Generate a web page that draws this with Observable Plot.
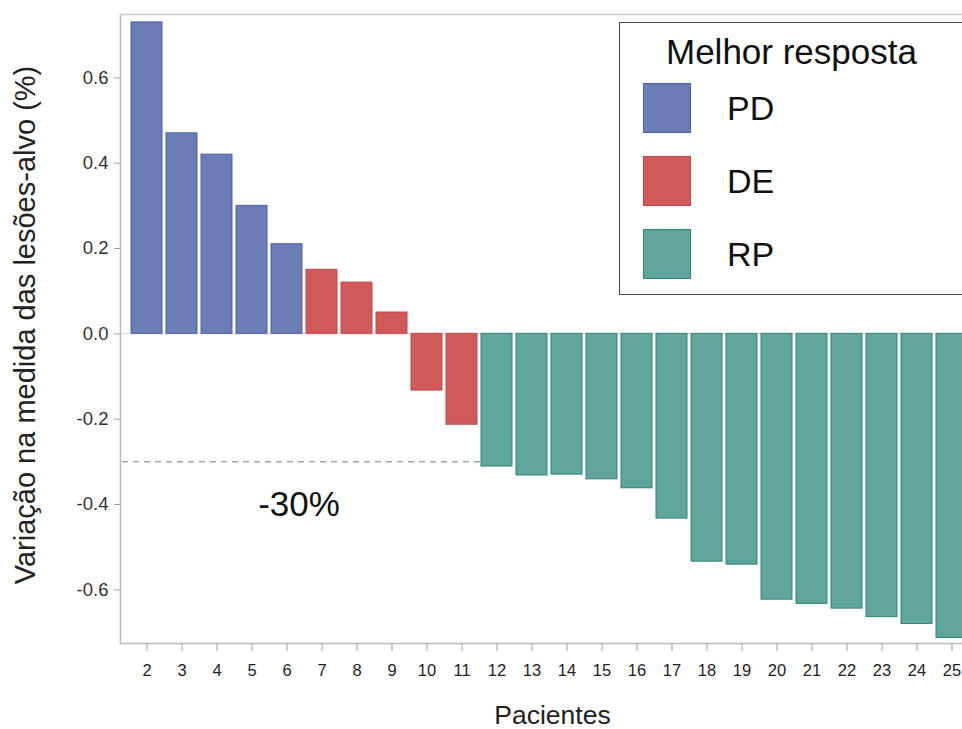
<!DOCTYPE html>
<html>
<head>
<meta charset="utf-8">
<script src="https://cdn.jsdelivr.net/npm/d3@7"></script>
<script src="https://cdn.jsdelivr.net/npm/@observablehq/plot@0.6"></script>
<style>
  html, body { margin: 0; padding: 0; background: #fff; overflow: hidden; }
  #wrap { position: relative; width: 962px; height: 729px; overflow: hidden; font-family: "Liberation Sans", Arial, sans-serif; }
  #legend { position: absolute; left: 619px; top: 22px; width: 380px; height: 273px; border: 1.5px solid #4a4a4a; box-sizing: border-box; background: #fff; }
  #legend .title { position: absolute; left: 46px; top: 9px; font-size: 35px; color: #111; white-space: nowrap; }
  #legend .sw { position: absolute; width: 48px; height: 50px; box-sizing: border-box; border: 1.5px solid; }
  #legend .lab { position: absolute; left: 107px; font-size: 34px; color: #111; line-height: 1; }
</style>
</head>
<body>
<div id="wrap"><div id="legend"></div></div>
<script>
// ---- data ----
const patients = ["2","3","4","5","6","7","8","9","10","11","12","13","14","15","16","17","18","19","20","21","22","23","24","25"];
const change = [0.73, 0.47, 0.42, 0.30, 0.21, 0.15, 0.12, 0.05, -0.133, -0.213, -0.311, -0.332, -0.33, -0.341, -0.362, -0.433, -0.534, -0.541, -0.623, -0.633, -0.644, -0.664, -0.68, -0.713];
const response = ["PD","PD","PD","PD","PD","DE","DE","DE","DE","DE","RP","RP","RP","RP","RP","RP","RP","RP","RP","RP","RP","RP","RP","RP"];
const responseLabels = ["PD", "DE", "RP"];
const fillColors = ["#6b7db6", "#d05a5a", "#5fa59b"];
const strokeColors = ["#4e5fa6", "#c44848", "#2f8478"];
const yTicks = [-0.6, -0.4, -0.2, 0, 0.2, 0.4, 0.6];
const yDomain = [-0.7258, 0.7485];
const threshold = -0.3;
const thresholdFrom = "2";
const thresholdTo = "12";
const thresholdText = "-30%";
const legendTitle = "Melhor resposta";
const yLabel = "Variação na medida das lesões-alvo (%)";
const xLabel = "Pacientes";

const data = patients.map((p, i) => ({patient: p, change: change[i], response: response[i]}));
const strokeOf = r => strokeColors[responseLabels.indexOf(r)];

const chart = Plot.plot({
  width: 962,
  height: 729,
  marginLeft: 120,
  marginRight: 0,
  marginTop: 14,
  marginBottom: 86,
  style: {fontFamily: '"Liberation Sans", Arial, sans-serif', color: "#333", background: "#fff"},
  x: {domain: patients, range: [120, 978], paddingInner: 0.115, paddingOuter: 0.30, axis: null},
  y: {domain: yDomain, axis: null},
  color: {domain: responseLabels, range: fillColors},
  marks: [
    Plot.ruleY([0], {stroke: "#d4d4d4", strokeWidth: 1}),
    Plot.ruleY([{y: threshold, from: thresholdFrom, to: thresholdTo}], {y: "y", x1: "from", x2: "to", insetLeft: -9, stroke: "#a8a8a8", strokeWidth: 1.5, strokeDasharray: "6,5"}),
    Plot.barY(data, {x: "patient", y: "change", fill: "response", stroke: d => strokeOf(d.response), strokeWidth: 1}),
    Plot.frame({anchor: "left", stroke: "#b8bcc0", strokeWidth: 1.5}),
    Plot.frame({anchor: "top", stroke: "#c8ccd0", strokeWidth: 1.5}),
    Plot.frame({anchor: "bottom", stroke: "#b8bcc0", strokeWidth: 1.5}),
    Plot.axisY({ticks: yTicks, tickFormat: d => d.toFixed(1), tickSize: 6, tickPadding: 6, fontSize: 18.5, stroke: "#9a9ea2", fill: "#333", label: null}),
    Plot.axisX({tickSize: 8, tickPadding: 13, fontSize: 16.5, stroke: "#9a9ea2", fill: "#222", label: null}),
    Plot.text([thresholdText], {x: () => "6", y: () => -0.4, dx: 12, fontSize: 35, fill: "#111"}),
    Plot.text([yLabel], {frameAnchor: "left", rotate: -90, dx: -95, dy: -4, fontSize: 29, fill: "#222", textAnchor: "middle", lineAnchor: "middle"}),
    Plot.text([xLabel], {frameAnchor: "bottom", dy: 72, dx: 11, fontSize: 26.5, fill: "#222", textAnchor: "middle", lineAnchor: "middle"})
  ]
});
document.getElementById("wrap").prepend(chart);

// ---- legend ----
const legend = document.getElementById("legend");
const t = document.createElement("div");
t.className = "title"; t.textContent = legendTitle; legend.appendChild(t);
const swTops = [60, 133, 206];
responseLabels.forEach((r, i) => {
  const sw = document.createElement("div");
  sw.className = "sw";
  sw.style.left = "23px";
  sw.style.top = swTops[i] + "px";
  sw.style.background = fillColors[i];
  sw.style.borderColor = strokeColors[i];
  legend.appendChild(sw);
  const lab = document.createElement("div");
  lab.className = "lab";
  lab.style.top = (swTops[i] + 8) + "px";
  lab.textContent = r;
  legend.appendChild(lab);
});
</script>
</body>
</html>
